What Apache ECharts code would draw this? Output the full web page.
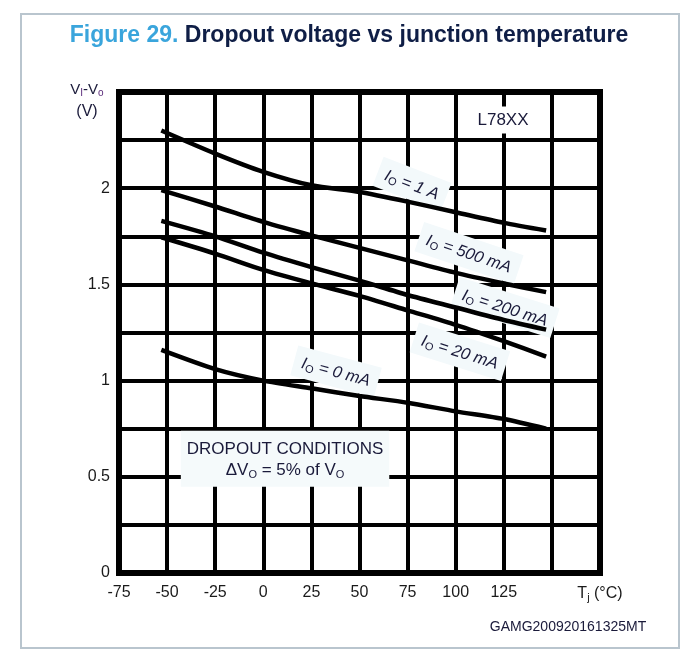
<!DOCTYPE html>
<html><head><meta charset="utf-8">
<script src="https://cdn.jsdelivr.net/npm/echarts@6/dist/echarts.min.js"></script>
<style>html,body{margin:0;padding:0;background:#fff}#c{width:692px;height:663px}</style>
</head><body><div id="c"></div>
<script>
// ---- data ----
const temps = [-53, -25, 0, 25, 50, 75, 100, 125, 147];
const io1A   = [2.30, 2.18, 2.085, 2.015, 1.98, 1.93, 1.875, 1.82, 1.78];
const io500  = [1.99, 1.905, 1.825, 1.755, 1.69, 1.625, 1.56, 1.505, 1.46];
const io200  = [1.83, 1.75, 1.665, 1.59, 1.52, 1.445, 1.38, 1.315, 1.265];
const io20   = [1.745, 1.66, 1.575, 1.505, 1.44, 1.365, 1.29, 1.205, 1.125];
const io0    = [1.16, 1.06, 1.00, 0.96, 0.92, 0.885, 0.84, 0.80, 0.75];
const seriesNames = ['1 A', '500 mA', '200 mA', '20 mA', '0 mA'];
const seriesValues = [io1A, io500, io200, io20, io0];
// label anchors (data coords) and rotation (deg)
const labelAnchors = [[77.3, 2.02, 21], [106.9, 1.662, 18.5], [125.6, 1.38, 17.5], [102.2, 1.15, 17.5], [37.8, 1.047, 15]];
const xTicks = [-75, -50, -25, 0, 25, 50, 75, 100, 125];
const yTicks = [0, 0.5, 1, 1.5, 2];

const chart = echarts.init(document.getElementById('c'));
const FONT = 'Liberation Sans, Arial, sans-serif';

const series = seriesValues.map((vals, k) => ({
  type: 'line', name: seriesNames[k], smooth: 0.25, symbol: 'none', z: 3,
  data: temps.map((t, i) => [t, vals[i]]),
  lineStyle: { color: '#000', width: 4.5, cap: 'butt' }
}));

chart.setOption({
  animation: false,
  grid: { left: 119, right: 92, top: 92, bottom: 90, show: true, borderColor: '#000', borderWidth: 6, backgroundColor: 'transparent', z: 0 },
  xAxis: {
    type: 'value', min: -75, max: 175, interval: 25,
    axisLine: { show: false }, axisTick: { show: false },
    splitLine: { show: true, lineStyle: { color: '#000', width: 4 } },
    axisLabel: {
      margin: 12, fontFamily: FONT, fontSize: 16, color: '#1a1a1a',
      formatter: v => xTicks.includes(v) ? String(v) : (v === 175 ? '{t|T}{j|j}{t| (°C)}' : ''),
      rich: { t: { fontFamily: FONT, fontSize: 16, color: '#1a1a1a' }, j: { fontFamily: FONT, fontSize: 11, color: '#1a1a1a', verticalAlign: 'bottom', padding: [7, 0, 0, 0] } }
    }
  },
  yAxis: {
    type: 'value', min: 0, max: 2.5, interval: 0.25,
    axisLine: { show: false }, axisTick: { show: false },
    splitLine: { show: true, lineStyle: { color: '#000', width: 4 } },
    axisLabel: {
      margin: 9, fontFamily: FONT, fontSize: 16, color: '#1a1a1a',
      formatter: v => yTicks.some(t => Math.abs(t - v) < 1e-9) ? String(v) : ''
    }
  },
  series: series
});

function draw() {
  const g = [];
  // outer frame
  g.push({ type: 'rect', shape: { x: 21, y: 14, width: 658, height: 634 }, style: { fill: 'none', stroke: '#b9c5ce', lineWidth: 2 }, z: 0, silent: true });
  // title
  g.push({ type: 'text', x: 349, y: 36, z: 10, style: {
    text: '{a|Figure 29. }{b|Dropout voltage vs junction temperature}', align: 'center', verticalAlign: 'middle',
    rich: { a: { fontFamily: FONT, fontSize: 23, fontWeight: 'bold', fill: '#3aa5dc' }, b: { fontFamily: FONT, fontSize: 23, fontWeight: 'bold', fill: '#0f1e46' } }
  }});
  // y axis name
  g.push({ type: 'text', x: 87, y: 90, z: 10, style: {
    text: '{v|V}{s|I}{v|-V}{s|o}', align: 'center', verticalAlign: 'middle',
    rich: { v: { fontFamily: FONT, fontSize: 15, fill: '#1a1a3a' }, s: { fontFamily: FONT, fontSize: 10, fill: '#5a2a7a', verticalAlign: 'bottom', padding: [6, 0, 0, 0] } }
  }});
  g.push({ type: 'text', x: 87, y: 112, z: 10, style: { text: '(V)', align: 'center', verticalAlign: 'middle', fontFamily: FONT, fontSize: 16, fill: '#1a1a3a' } });
  // footer code
  g.push({ type: 'text', x: 568, y: 627, z: 10, style: { text: 'GAMG200920161325MT', align: 'center', verticalAlign: 'middle', fontFamily: FONT, fontSize: 14, fill: '#1a1a3a' } });
  // L78XX
  const pL = chart.convertToPixel({ gridIndex: 0 }, [124.6, 2.354]);
  g.push({ type: 'text', x: pL[0], y: pL[1], z: 1, style: { text: 'L78XX', align: 'center', verticalAlign: 'middle', fontFamily: FONT, fontSize: 17, fill: '#1a1a3a', backgroundColor: '#fff', padding: [5, 2, 5, 2] } });
  // dropout conditions box
  const pD = chart.convertToPixel({ gridIndex: 0 }, [11.3, 0.594]);
  g.push({ type: 'text', x: pD[0], y: pD[1], z: 1, style: {
    text: '{a|DROPOUT CONDITIONS}\n{a|ΔV}{s|O}{a| = 5% of V}{s|O}', align: 'center', verticalAlign: 'middle',
    backgroundColor: '#f5fafb', padding: [8, 6, 6, 6],
    rich: { a: { fontFamily: FONT, fontSize: 17, fill: '#1a1a3a', lineHeight: 21, align: 'center' }, s: { fontFamily: FONT, fontSize: 11, fill: '#1a1a3a', lineHeight: 21, verticalAlign: 'bottom', padding: [7, 0, 0, 0] } }
  }});
  // curve labels
  labelAnchors.forEach((a, k) => {
    const p = chart.convertToPixel({ gridIndex: 0 }, [a[0], a[1]]);
    g.push({ type: 'text', x: p[0], y: p[1], rotation: -a[2] * Math.PI / 180, z: 1, style: {
      text: '{i|I}{s|O}{n| = ' + seriesNames[k] + '}', align: 'center', verticalAlign: 'middle',
      backgroundColor: '#f3f9fb', padding: [7, 8, 5, 8],
      rich: { i: { fontFamily: FONT, fontSize: 16.5, fontStyle: 'italic', fill: '#1a1a3a' }, s: { fontFamily: FONT, fontSize: 11, fill: '#1a1a3a', verticalAlign: 'bottom', padding: [8, 0, 0, 0] }, n: { fontFamily: FONT, fontSize: 16.5, fontStyle: 'italic', fill: '#1a1a3a' } }
    }});
  });
  chart.setOption({ graphic: { elements: g } });
}
draw();
</script>
</body></html>
